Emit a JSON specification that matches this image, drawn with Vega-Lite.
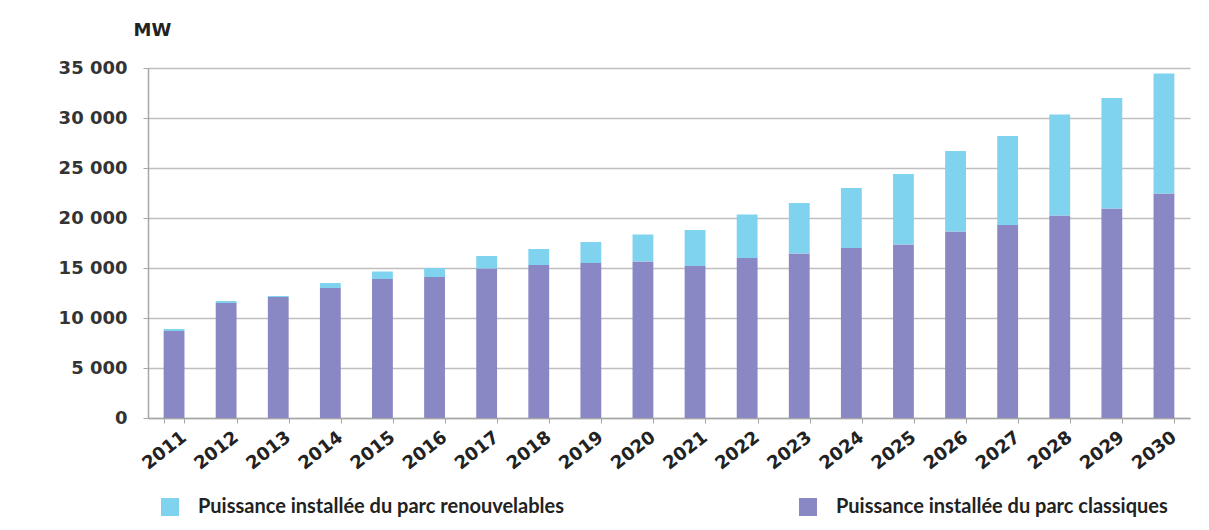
{
  "$schema": "https://vega.github.io/schema/vega-lite/v6.json",
  "width": 1042,
  "height": 350,
  "autosize": {"type": "none"},
  "padding": {"left": 148, "top": 68, "right": 19, "bottom": 112},
  "background": "white",
  "config": {
    "font": "Lato",
    "view": {"stroke": null}
  },
  "data": {
    "values": [
      {"annee": "2011", "type": "Puissance installée du parc classiques", "mw": 8700},
      {"annee": "2011", "type": "Puissance installée du parc renouvelables", "mw": 200},
      {"annee": "2012", "type": "Puissance installée du parc classiques", "mw": 11500},
      {"annee": "2012", "type": "Puissance installée du parc renouvelables", "mw": 200},
      {"annee": "2013", "type": "Puissance installée du parc classiques", "mw": 12100},
      {"annee": "2013", "type": "Puissance installée du parc renouvelables", "mw": 100},
      {"annee": "2014", "type": "Puissance installée du parc classiques", "mw": 13000},
      {"annee": "2014", "type": "Puissance installée du parc renouvelables", "mw": 500},
      {"annee": "2015", "type": "Puissance installée du parc classiques", "mw": 13900},
      {"annee": "2015", "type": "Puissance installée du parc renouvelables", "mw": 750},
      {"annee": "2016", "type": "Puissance installée du parc classiques", "mw": 14100},
      {"annee": "2016", "type": "Puissance installée du parc renouvelables", "mw": 900},
      {"annee": "2017", "type": "Puissance installée du parc classiques", "mw": 14950},
      {"annee": "2017", "type": "Puissance installée du parc renouvelables", "mw": 1250},
      {"annee": "2018", "type": "Puissance installée du parc classiques", "mw": 15300},
      {"annee": "2018", "type": "Puissance installée du parc renouvelables", "mw": 1600},
      {"annee": "2019", "type": "Puissance installée du parc classiques", "mw": 15500},
      {"annee": "2019", "type": "Puissance installée du parc renouvelables", "mw": 2100},
      {"annee": "2020", "type": "Puissance installée du parc classiques", "mw": 15650},
      {"annee": "2020", "type": "Puissance installée du parc renouvelables", "mw": 2700},
      {"annee": "2021", "type": "Puissance installée du parc classiques", "mw": 15200},
      {"annee": "2021", "type": "Puissance installée du parc renouvelables", "mw": 3600},
      {"annee": "2022", "type": "Puissance installée du parc classiques", "mw": 16000},
      {"annee": "2022", "type": "Puissance installée du parc renouvelables", "mw": 4350},
      {"annee": "2023", "type": "Puissance installée du parc classiques", "mw": 16450},
      {"annee": "2023", "type": "Puissance installée du parc renouvelables", "mw": 5050},
      {"annee": "2024", "type": "Puissance installée du parc classiques", "mw": 17000},
      {"annee": "2024", "type": "Puissance installée du parc renouvelables", "mw": 6000},
      {"annee": "2025", "type": "Puissance installée du parc classiques", "mw": 17350},
      {"annee": "2025", "type": "Puissance installée du parc renouvelables", "mw": 7050},
      {"annee": "2026", "type": "Puissance installée du parc classiques", "mw": 18650},
      {"annee": "2026", "type": "Puissance installée du parc renouvelables", "mw": 8050},
      {"annee": "2027", "type": "Puissance installée du parc classiques", "mw": 19300},
      {"annee": "2027", "type": "Puissance installée du parc renouvelables", "mw": 8900},
      {"annee": "2028", "type": "Puissance installée du parc classiques", "mw": 20250},
      {"annee": "2028", "type": "Puissance installée du parc renouvelables", "mw": 10100},
      {"annee": "2029", "type": "Puissance installée du parc classiques", "mw": 20950},
      {"annee": "2029", "type": "Puissance installée du parc renouvelables", "mw": 11050},
      {"annee": "2030", "type": "Puissance installée du parc classiques", "mw": 22450},
      {"annee": "2030", "type": "Puissance installée du parc renouvelables", "mw": 12000}
    ]
  },
  "mark": {"type": "bar"},
  "encoding": {
    "x": {
      "field": "annee",
      "type": "ordinal",
      "scale": {"paddingInner": 0.6, "paddingOuter": 0.3},
      "axis": {
        "title": null,
        "labelAngle": -38,
        "labelAlign": "right",
        "labelBaseline": "middle",
        "labelFont": "DejaVu Sans",
        "labelFontWeight": "bold",
        "labelFontSize": 18,
        "labelColor": "#222222",
        "labelPadding": 12,
        "labelOffset": 10,
        "domainColor": "#A6A6A6",
        "domainWidth": 1.5,
        "tickColor": "#A6A6A6",
        "tickSize": 5,
        "tickBand": "extent",
        "grid": false
      }
    },
    "y": {
      "field": "mw",
      "type": "quantitative",
      "stack": "zero",
      "scale": {"domain": [0, 35000], "nice": false},
      "axis": {
        "values": [0, 5000, 10000, 15000, 20000, 25000, 30000, 35000],
        "labelExpr": "replace(format(datum.value, ','), ',', ' ')",
        "title": "MW",
        "titleAngle": 0,
        "titleX": 4,
        "titleY": -38,
        "titleAlign": "center",
        "titleBaseline": "middle",
        "titleFont": "DejaVu Sans",
        "titleFontSize": 18,
        "titleFontWeight": "bold",
        "titleColor": "#222222",
        "labelFont": "DejaVu Sans",
        "labelFontWeight": "bold",
        "labelFontSize": 18,
        "labelColor": "#333333",
        "labelPadding": 16,
        "domainColor": "#A6A6A6",
        "domainWidth": 1.5,
        "tickColor": "#A6A6A6",
        "tickSize": 5,
        "gridColor": "#BFBFBF",
        "gridWidth": 1.5
      }
    },
    "color": {
      "field": "type",
      "type": "nominal",
      "scale": {
        "domain": ["Puissance installée du parc renouvelables", "Puissance installée du parc classiques"],
        "range": ["#80D3EE", "#8A88C4"]
      },
      "legend": {
        "title": null,
        "orient": "none",
        "legendX": 12,
        "legendY": 429,
        "direction": "horizontal",
        "columns": 2,
        "columnPadding": 233,
        "symbolType": "square",
        "symbolSize": 324,
        "symbolStrokeWidth": 0,
        "labelFont": "Lato",
        "labelFontWeight": "bold",
        "labelFontSize": 20,
        "labelColor": "#222222",
        "labelOffset": 18,
        "labelLimit": 600
      }
    },
    "order": {"field": "type", "sort": "ascending"}
  }
}
